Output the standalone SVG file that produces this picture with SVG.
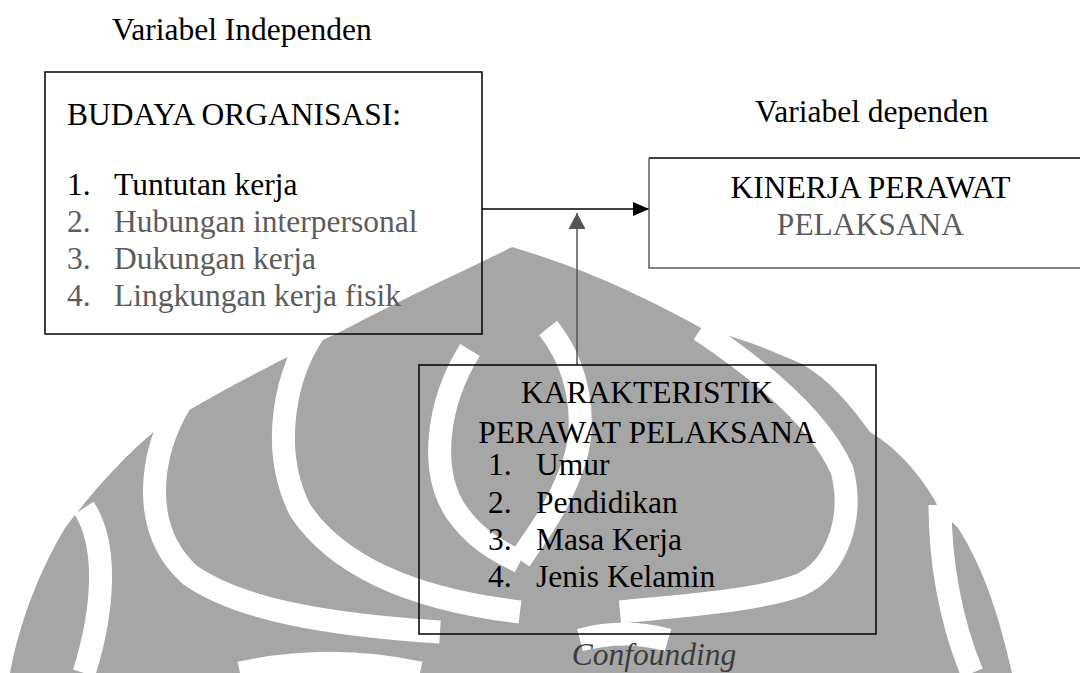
<svg xmlns="http://www.w3.org/2000/svg" width="1080" height="673" viewBox="0 0 1080 673">
<style>
text{font-family:'Liberation Serif','Times New Roman','DejaVu Serif',serif;font-size:31.5px;fill:#000}
.g{fill:#5c5c5c}
.i{font-style:italic;fill:#3c3c3c}
.box{fill:none;stroke:#000;stroke-width:1.5}
.wm{fill:#a6a6a6}
.band{fill:none;stroke:#fff;stroke-width:23;stroke-linecap:butt}
</style>
<defs>
<marker id="ah" viewBox="0 0 16 14" refX="16" refY="7" markerWidth="16" markerHeight="14" markerUnits="userSpaceOnUse" orient="auto"><path d="M0,0 L16,7 L0,14 Z" fill="#000"/></marker>
<marker id="ahg" viewBox="0 0 16 17" refX="16" refY="8.5" markerWidth="16" markerHeight="17" markerUnits="userSpaceOnUse" orient="auto"><path d="M0,0 L16,8.5 L0,17 Z" fill="#555"/></marker>
</defs>
<g id="watermark">
<path class="wm" d="M512,247 C470,268 400,300 340,332 C290,355 230,385 157,429 C120,460 90,495 65,528 C40,570 20,620 10,673 L1012,673 C1000,620 985,570 958,528 L940,510 C925,480 900,450 870,432 C850,405 830,380 802,364 C760,345 730,335 705,330 C650,300 590,270 512,247 Z"/>
<path class="band" d="M84,508 C108,545 104,610 84,673"/>
<path class="band" d="M182,400 C148,455 140,530 190,575 C240,610 330,625 440,632"/>
<path class="band" d="M322,322 C283,370 270,450 300,510 C340,570 420,600 520,612"/>
<path class="band" d="M470,350 C436,405 430,470 455,510 C475,540 500,552 520,562"/>
<path class="band" d="M548,328 C578,365 588,420 574,462 C560,505 540,530 520,560"/>
<path class="band" d="M700,330 C760,370 820,420 842,470 C855,520 835,570 800,585 C760,600 690,605 620,612"/>
<path class="band" d="M940,505 C940,560 950,620 972,673"/>
<path class="band" d="M240,673 C300,660 360,660 420,673"/>
<path class="band" d="M580,640 C610,632 640,632 668,640"/>
</g>
<g id="connectors">
<line x1="482" y1="209" x2="649" y2="209" stroke="#000" stroke-width="1.5" marker-end="url(#ah)"/>
<line x1="577" y1="365" x2="577" y2="213" stroke="#555" stroke-width="1.5" marker-end="url(#ahg)"/>
</g>
<g id="label-independen"><text x="112" y="40">Variabel Independen</text></g>
<g id="label-dependen"><text x="755" y="122">Variabel dependen</text></g>
<g id="budaya">
<rect class="box" x="45" y="72" width="437" height="262"/>
<text x="67" y="125">BUDAYA ORGANISASI:</text>
<text x="67" y="195">1.</text><text x="114" y="195">Tuntutan kerja</text>
<text class="g" x="67" y="232">2.</text><text class="g" x="114" y="232">Hubungan interpersonal</text>
<text class="g" x="67" y="269">3.</text><text class="g" x="114" y="269">Dukungan kerja</text>
<text class="g" x="67" y="306">4.</text><text class="g" x="114" y="306">Lingkungan kerja fisik</text>
</g>
<g id="kinerja">
<path d="M1085,158 L649,158" stroke="#000" stroke-width="1.5" fill="none"/>
<path d="M649,158 L649,268 L1085,268" stroke="#5c5c5c" stroke-width="1.5" fill="none"/>
<text x="870.5" y="198" text-anchor="middle">KINERJA PERAWAT</text>
<text class="g" x="870.5" y="235" text-anchor="middle">PELAKSANA</text>
</g>
<g id="karakteristik">
<rect class="box" x="419" y="365" width="457" height="269"/>
<text x="647" y="403" text-anchor="middle">KARAKTERISTIK</text>
<text x="647" y="443" text-anchor="middle">PERAWAT PELAKSANA</text>
<text x="488" y="475">1.</text><text x="536" y="475">Umur</text>
<text x="488" y="513">2.</text><text x="536" y="513">Pendidikan</text>
<text x="488" y="550">3.</text><text x="536" y="550">Masa Kerja</text>
<text x="488" y="587">4.</text><text x="536" y="587">Jenis Kelamin</text>
</g>
<g id="confounding"><text class="i" x="654" y="665" text-anchor="middle">Confounding</text></g>
</svg>
